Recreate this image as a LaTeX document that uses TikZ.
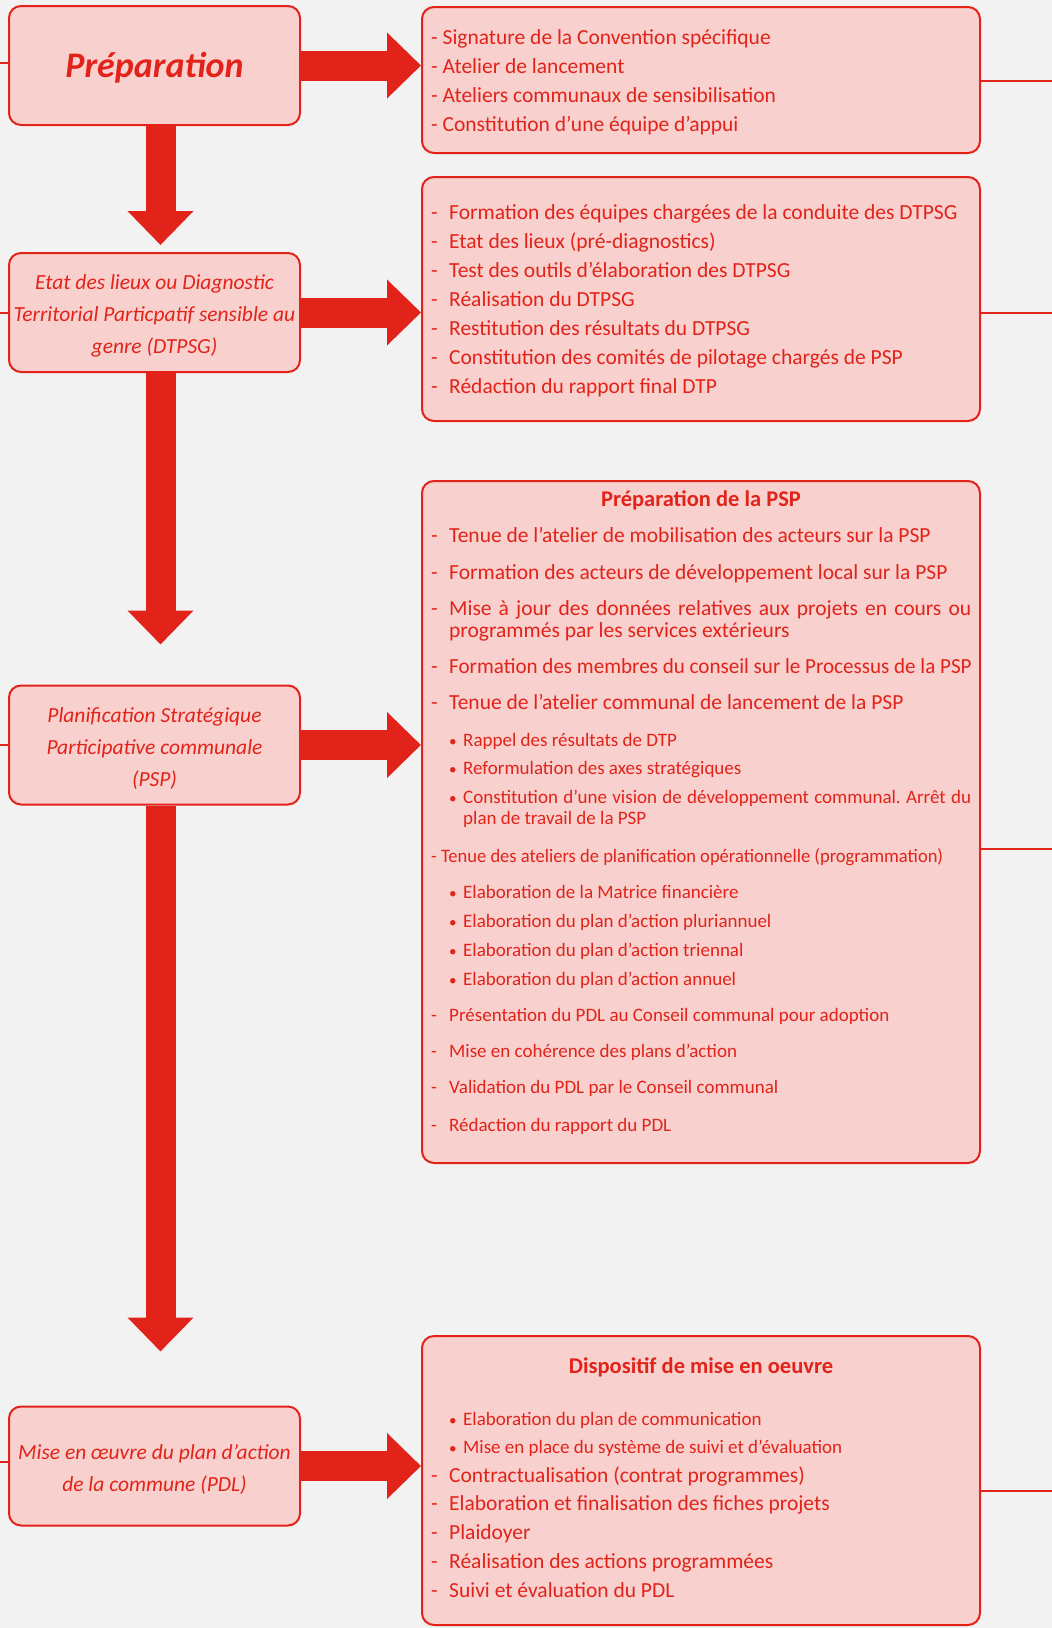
\documentclass[tikz,border=0pt]{standalone}
\usepackage{fontspec}
\setmainfont{Carlito}
\usepackage{tikz}
\usetikzlibrary{arrows.meta}

\definecolor{redmain}{HTML}{E2231A}
\definecolor{pinkfill}{HTML}{F8D0CE}
\definecolor{bggray}{HTML}{F2F2F2}

\tikzstyle{step_box}=[draw=redmain, fill=pinkfill, line width=2pt, rounded corners=12pt, minimum width=291pt, minimum height=119pt, inner sep=0pt, text=redmain, font=\fontsize{21.5}{32}\selectfont\itshape]
\tikzstyle{list_box}=[draw=redmain, fill=pinkfill, line width=2pt, rounded corners=12pt, minimum width=558pt, inner sep=0pt]
\tikzstyle{big_item}=[anchor=base west, inner sep=0pt, text=redmain, font=\fontsize{21.5}{22}\selectfont]
\tikzstyle{small_item}=[anchor=base west, inner sep=0pt, text=redmain, font=\fontsize{19}{21.5}\selectfont]
\tikzstyle{box_title}=[anchor=base, inner sep=0pt, text=redmain, font=\fontsize{22.5}{24}\selectfont\bfseries]
\tikzstyle{fat_arrow}=[draw=redmain, line width=30pt, -{Triangle[length=34pt, width=64pt]}]
\tikzstyle{side_line}=[draw=redmain, line width=2pt]

\newcommand{\dashitem}[1]{\makebox[18pt][l]{-}#1}
\newcommand{\bulitem}[1]{\makebox[14pt][l]{\scalebox{0.8}{\textbullet}}#1}
\newcommand{\phasetext}[2]{\raisebox{#1}[\height][\depth]{\begin{tabular}{@{}c@{}}#2\end{tabular}}}
\frenchspacing

\begin{document}
\begin{tikzpicture}[x=1pt, y=-1pt]
    \fill[bggray] (0,0) rectangle (1052,1628);
    \useasboundingbox (0,0) rectangle (1052,1628);
    \coordinate (left_edge) at (0,0);
    \coordinate (right_edge) at (1052,0);

    % phases
    \node[step_box] at (154.5, 65.5) (prep) {\phasetext{-4pt}{\fontsize{36}{40}\selectfont\bfseries Préparation}};
    \node[step_box] at (154.5, 312.5) (dtp) {\phasetext{-3pt}{Etat des lieux ou Diagnostic\\Territorial Particpatif sensible au\\genre (DTPSG)}};
    \node[step_box] at (154.5, 745) (psp) {\phasetext{-3pt}{Planification Stratégique\\Participative communale\\(PSP)}};
    \node[step_box] at (154.5, 1466) (pdl) {\phasetext{-3pt}{Mise en œuvre du plan d’action\\de la commune (PDL)}};

    % activity boxes
    \node[list_box, minimum height=146pt] at (701, 80) (r_prep) {};
    \node[list_box, minimum height=244pt] at (701, 299) (r_dtp) {};
    \node[list_box, minimum height=682pt] at (701, 822) (r_psp) {};
    \node[list_box, minimum height=289pt] at (701, 1480.5) (r_pdl) {};

    \node[big_item] at (431, 44) (p1) {- Signature de la Convention spécifique};
    \node[big_item] at (431, 73) (p2) {- Atelier de lancement};
    \node[big_item] at (431, 102) (p3) {- Ateliers communaux de sensibilisation};
    \node[big_item] at (431, 131) (p4) {- Constitution d’une équipe d’appui};

    \node[big_item] at (431, 219) (d1) {\dashitem{Formation des équipes chargées de la conduite des DTPSG}};
    \node[big_item] at (431, 248) (d2) {\dashitem{Etat des lieux (pré-diagnostics)}};
    \node[big_item] at (431, 277) (d3) {\dashitem{Test des outils d’élaboration des DTPSG}};
    \node[big_item] at (431, 306) (d4) {\dashitem{Réalisation du DTPSG}};
    \node[big_item] at (431, 335) (d5) {\dashitem{Restitution des résultats du DTPSG}};
    \node[big_item] at (431, 364) (d6) {\dashitem{Constitution des comités de pilotage chargés de PSP}};
    \node[big_item] at (431, 393) (d7) {\dashitem{Rédaction du rapport final DTP}};

    \node[box_title] at (701, 506) (s0) {Préparation de la PSP};
    \node[big_item] at (431, 542) (s1) {\dashitem{Tenue de l’atelier de mobilisation des acteurs sur la PSP}};
    \node[big_item] at (431, 579) (s2) {\dashitem{Formation des acteurs de développement local sur la PSP}};
    \node[big_item] at (431, 615) (s3) {\dashitem{\parbox[t]{522pt}{Mise à jour des données relatives aux projets en cours ou\linebreak programmés par les services extérieurs}}};
    \node[big_item] at (431, 673) (s4) {\dashitem{\scalebox{0.98}[1]{Formation des membres du conseil sur le Processus de la PSP}}};
    \node[big_item] at (431, 709) (s5) {\dashitem{Tenue de l’atelier communal de lancement de la PSP}};
    \node[small_item] at (449, 746) (s6) {\bulitem{Rappel des résultats de DTP}};
    \node[small_item] at (449, 774) (s7) {\bulitem{Reformulation des axes stratégiques}};
    \node[small_item] at (449, 803) (s8) {\bulitem{\parbox[t]{508pt}{Constitution d’une vision de développement communal. Arrêt du\linebreak plan de travail de la PSP}}};
    \node[small_item] at (431, 862) (s9) {\scalebox{0.975}[1]{- Tenue des ateliers de planification opérationnelle (programmation)}};
    \node[small_item] at (449, 898) (s10) {\bulitem{Elaboration de la Matrice financière}};
    \node[small_item] at (449, 927) (s11) {\bulitem{Elaboration du plan d’action pluriannuel}};
    \node[small_item] at (449, 956) (s12) {\bulitem{Elaboration du plan d’action triennal}};
    \node[small_item] at (449, 985) (s13) {\bulitem{Elaboration du plan d’action annuel}};
    \node[small_item] at (431, 1021) (s14) {\dashitem{Présentation du PDL au Conseil communal pour adoption}};
    \node[small_item] at (431, 1057) (s15) {\dashitem{Mise en cohérence des plans d’action}};
    \node[small_item] at (431, 1093) (s16) {\dashitem{Validation du PDL par le Conseil communal}};
    \node[small_item] at (431, 1131) (s17) {\dashitem{Rédaction du rapport du PDL}};

    \node[box_title] at (701, 1373) (m0) {Dispositif de mise en oeuvre};
    \node[small_item] at (449, 1425) (m1) {\bulitem{Elaboration du plan de communication}};
    \node[small_item] at (449, 1453) (m2) {\bulitem{Mise en place du système de suivi et d’évaluation}};
    \node[big_item] at (431, 1482) (m3) {\dashitem{Contractualisation (contrat programmes)}};
    \node[big_item] at (431, 1510) (m4) {\dashitem{Elaboration et finalisation des fiches projets}};
    \node[big_item] at (431, 1539) (m5) {\dashitem{Plaidoyer}};
    \node[big_item] at (431, 1568) (m6) {\dashitem{Réalisation des actions programmées}};
    \node[big_item] at (431, 1597) (m7) {\dashitem{Suivi et évaluation du PDL}};

    % arrows
    \draw[fat_arrow] (prep.east) -- (prep.east -| r_prep.west);
    \draw[fat_arrow] (dtp.east) -- (dtp.east -| r_dtp.west);
    \draw[fat_arrow] (psp.east) -- (psp.east -| r_psp.west);
    \draw[fat_arrow] (pdl.east) -- (pdl.east -| r_pdl.west);
    \draw[fat_arrow, shorten >=7pt] ([xshift=6pt]prep.south) -- ([xshift=6pt]dtp.north);
    \draw[fat_arrow, shorten >=40pt] ([xshift=6pt]dtp.south) -- ([xshift=6pt]psp.north);
    \draw[fat_arrow, shorten >=54pt] ([xshift=6pt]psp.south) -- ([xshift=6pt]pdl.north);

    \draw[side_line] ([yshift=3pt]prep.west) -- ([yshift=3pt]prep.west -| left_edge);
    \draw[side_line] (dtp.west) -- (dtp.west -| left_edge);
    \draw[side_line] (psp.west) -- (psp.west -| left_edge);
    \draw[side_line] ([yshift=4pt]pdl.west) -- ([yshift=4pt]pdl.west -| left_edge);
    \draw[side_line] ([yshift=-1pt]r_prep.east) -- ([yshift=-1pt]r_prep.east -| right_edge);
    \draw[side_line] ([yshift=-14pt]r_dtp.east) -- ([yshift=-14pt]r_dtp.east -| right_edge);
    \draw[side_line] ([yshift=-27pt]r_psp.east) -- ([yshift=-27pt]r_psp.east -| right_edge);
    \draw[side_line] ([yshift=-10.5pt]r_pdl.east) -- ([yshift=-10.5pt]r_pdl.east -| right_edge);
\end{tikzpicture}
\end{document}
